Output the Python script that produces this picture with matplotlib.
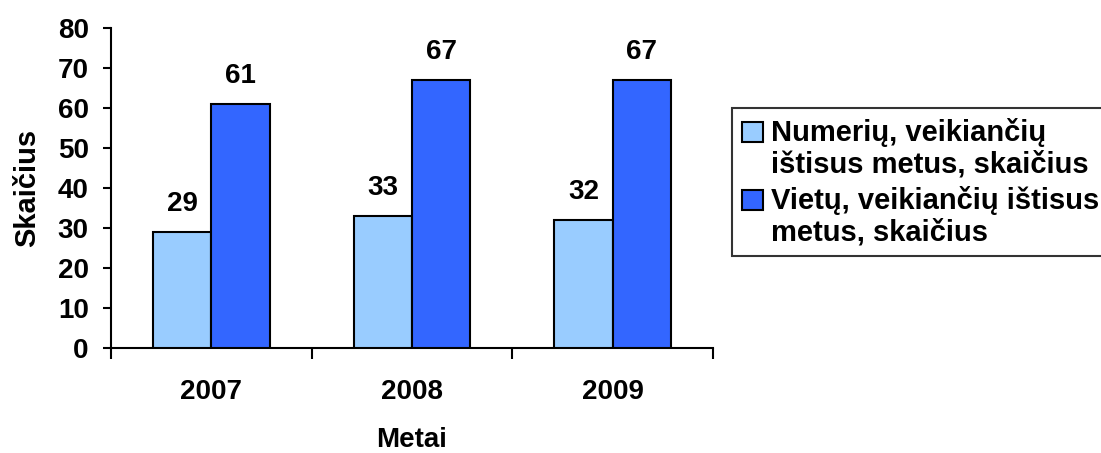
import numpy as np
import matplotlib.pyplot as plt
from matplotlib.patches import Patch, Rectangle
from matplotlib.legend_handler import HandlerPatch

# ── Data ──────────────────────────────────────────────────────────────────────
years = ['2007', '2008', '2009']
rooms = [29, 33, 32]
places = [61, 67, 67]
series_names = ['Numerių, veikiančių\ništisus metus, skaičius',
                'Vietų, veikiančių ištisus\nmetus, skaičius']
COLORS = ['#99CCFF', '#3366FF']
FS = 20

plt.rcParams['font.family'] = ['Liberation Sans', 'DejaVu Sans']
plt.rcParams['font.weight'] = 'bold'

fig = plt.figure(figsize=(11.01, 4.53), dpi=100)
ax = fig.add_axes([111 / 1101, 1 - 348 / 453, (713 - 111) / 1101, (348 - 28) / 453])

x = np.arange(len(years))
w = 0.29
b1 = ax.bar(x - w / 2, rooms, w, color=COLORS[0], edgecolor='black', linewidth=1.5, zorder=3)
b2 = ax.bar(x + w / 2, places, w, color=COLORS[1], edgecolor='black', linewidth=1.5, zorder=3)

for bars, vals in ((b1, rooms), (b2, places)):
    for r, v in zip(bars, vals):
        ax.annotate(f'{v}', xy=(r.get_x() + r.get_width() / 2, v),
                    xytext=(0, 11), textcoords='offset points',
                    ha='center', va='bottom', fontsize=FS, fontweight='bold')

ax.set_xlim(-0.5, len(years) - 0.5)
ax.set_ylim(0, 80)
ax.set_yticks(np.arange(0, 81, 10))

# tick marks at category boundaries, labels centred
ax.set_xticks(np.arange(-0.5, len(years), 1.0))
ax.set_xticklabels([])
ax.set_xticks(x, minor=True)
ax.set_xticklabels(years, minor=True)
ax.tick_params(axis='x', which='major', direction='out', length=8, width=1.5)
ax.tick_params(axis='x', which='minor', length=0, pad=22, labelsize=FS)
ax.tick_params(axis='y', direction='out', length=6, width=1.5, labelsize=FS, pad=10)

for s in ('top', 'right'):
    ax.spines[s].set_visible(False)
for s in ('left', 'bottom'):
    ax.spines[s].set_linewidth(1.5)

ax.set_xlabel('Metai', fontsize=FS, fontweight='bold', labelpad=16)
ax.set_ylabel('Skaičius', fontsize=21, fontweight='bold', labelpad=12)


# legend squares sit next to the first line of each label
def top_square(legend, orig_handle, xdescent, ydescent, width, height, fontsize):
    return Rectangle((-xdescent, -ydescent + 0.58 * fontsize), width, height)


handles = [Patch(facecolor=c, edgecolor='black', linewidth=1.5) for c in COLORS]
leg = fig.legend(handles, series_names, loc='upper left',
                 bbox_to_anchor=(732 / 1101, 1 - 108 / 453),
                 fontsize=21, frameon=True, fancybox=False,
                 handlelength=0.7, handleheight=0.7, handletextpad=0.3,
                 borderpad=0.35, labelspacing=0.25, borderaxespad=0,
                 handler_map={Patch: HandlerPatch(patch_func=top_square)})
for t in leg.get_texts():
    t.set_linespacing(1.15)
leg.get_frame().set_edgecolor('black')
leg.get_frame().set_linewidth(1.5)

fig.savefig('out.png', dpi=100)
